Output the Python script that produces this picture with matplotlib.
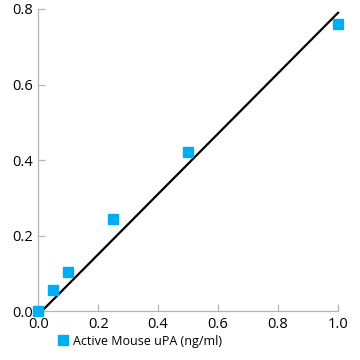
import numpy as np
import matplotlib.pyplot as plt

plt.rcParams['font.family'] = ['Open Sans', 'DejaVu Sans']

# Standard curve data
conc = [0.0, 0.05, 0.1, 0.25, 0.5, 1.0]
signal = [0.0, 0.057, 0.103, 0.244, 0.421, 0.76]
fit_x = [0.0, 1.0]
fit_slope = 0.80
fit_intercept = -0.01
x_ticks = [0.0, 0.2, 0.4, 0.6, 0.8, 1.0]
y_ticks = [0.0, 0.2, 0.4, 0.6, 0.8]

fig = plt.figure(figsize=(3.6, 3.6), dpi=100)
ax = fig.add_axes([0.106, 0.136, 0.833, 0.839])

fit_y = [fit_intercept + fit_slope * x for x in fit_x]
ax.plot(fit_x, fit_y, color='black', lw=1.6, clip_on=False, zorder=2)
ax.plot(conc, signal, ls='none', marker='s', ms=7.5, color='#00AEEF',
        clip_on=False, zorder=3, label='Active Mouse uPA (ng/ml)')

ax.set_xlim(0, 1.0)
ax.set_ylim(0, 0.8)
ax.set_xticks(x_ticks)
ax.set_yticks(y_ticks)
ax.set_xticklabels([f'{v:.1f}' for v in x_ticks])
ax.set_yticklabels([f'{v:.1f}' for v in y_ticks])

for s in ['top', 'right']:
    ax.spines[s].set_visible(False)
for s in ['left', 'bottom']:
    ax.spines[s].set_color('#b5b5b5')
    ax.spines[s].set_linewidth(0.9)
ax.tick_params(direction='in', length=5, width=0.9, color='#b5b5b5',
               labelsize=10.5, labelcolor='black', pad=4)

fig.legend(loc='center left', bbox_to_anchor=(0.145, 0.052), frameon=False,
           fontsize=9, handletextpad=0.3, handlelength=1.0, borderaxespad=0)

fig.savefig('out.png', dpi=100)
